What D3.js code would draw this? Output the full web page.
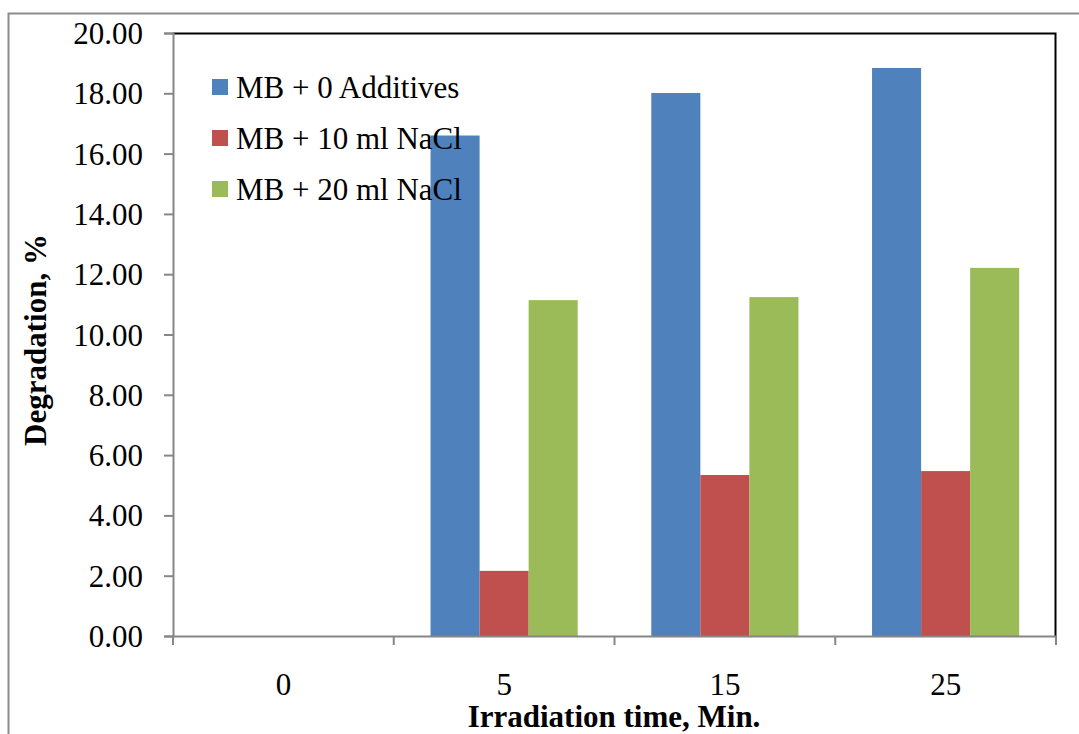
<!DOCTYPE html>
<html><head><meta charset="utf-8">
<script src="https://cdn.jsdelivr.net/npm/d3@7"></script>
<style>body{margin:0;background:#fff}svg{display:block}svg text{font-family:'Liberation Serif','Times New Roman',Tinos,'DejaVu Serif',serif !important;fill:#000}</style>
</head><body>
<script>
const categories = ["0","5","15","25"];
const seriesNames = ["MB + 0 Additives","MB + 10 ml NaCl","MB + 20 ml NaCl"];
const additives0 = [0, 16.60, 18.01, 18.84];
const nacl10 = [0, 2.16, 5.34, 5.47];
const nacl20 = [0, 11.14, 11.24, 12.21];
const yTicks = [0,2,4,6,8,10,12,14,16,18,20];
const colors = ["#4F81BD","#C0504D","#9BBB59"];
const series = [additives0, nacl10, nacl20];

const W = 1079, H = 734;
const svg = d3.select("body").append("svg").attr("width", W).attr("height", H);
const L = 173, R = 1056, T = 33, B = 636;
const FONT = "'Liberation Serif','Times New Roman',Tinos,'DejaVu Serif',serif";
const FS = "31px";

// outer frame
svg.append("path").attr("d", `M8.5,${H} V13.5 H${W}`).attr("fill","none").attr("stroke","#8c8c8c").attr("stroke-width",2);

const x = d3.scaleBand().domain(categories).range([L, R]).padding(0);
const bw = x.bandwidth();
const gapW = bw * 1.5 / 4.5;
const xs = d3.scaleBand().domain(d3.range(3)).range([gapW/2, bw - gapW/2]).padding(0);
const y = d3.scaleLinear().domain([0, 20]).range([B, T]);

// plot border top/right
svg.append("path").attr("d", `M${L},${T+0.5} H${R-0.5} V${B}`).attr("fill","none").attr("stroke","#000").attr("stroke-width",2);

// bars
series.forEach((vals, si) => {
  svg.append("g").selectAll("rect").data(vals).join("rect")
    .attr("x", (d,i) => x(categories[i]) + xs(si))
    .attr("width", xs.bandwidth())
    .attr("y", d => y(d))
    .attr("height", d => B - y(d))
    .attr("fill", colors[si]);
});

// y axis
const yAxis = svg.append("g").attr("transform", `translate(${L},0)`)
  .call(d3.axisLeft(y).tickValues(yTicks).tickFormat(d3.format(".2f")).tickSize(9).tickPadding(21));
yAxis.select(".domain").attr("stroke","#868686").attr("stroke-width",2);
yAxis.selectAll(".tick line").attr("stroke","#868686").attr("stroke-width",2);
yAxis.selectAll("text").style("font-family", FONT).style("font-size",FS).attr("fill","#000").attr("dy","0.34em");

// x axis
const xAxis = svg.append("g").attr("transform", `translate(0,${B})`)
  .call(d3.axisBottom(x).tickSize(0));
xAxis.select(".domain").attr("stroke","#868686").attr("stroke-width",2);
xAxis.selectAll("text").style("font-family", FONT).style("font-size",FS).attr("fill","#000").attr("y", 59).attr("dy", 0);
// boundary tick marks
const bounds = categories.map(c => x(c)).concat([R]);
svg.append("g").selectAll("line").data(bounds).join("line")
  .attr("x1", d => d).attr("x2", d => d).attr("y1", B).attr("y2", B + 9)
  .attr("stroke","#868686").attr("stroke-width",2);

// axis titles
svg.append("text").attr("x", 614).attr("y", 727).attr("text-anchor","middle")
  .style("font-family", FONT).style("font-size",FS).attr("font-weight","bold").text("Irradiation time, Min.");
svg.append("text").attr("transform","translate(46,340) rotate(-90)").attr("text-anchor","middle")
  .style("font-family", FONT).style("font-size",FS).attr("font-weight","bold").text("Degradation, %");

// legend
const lg = svg.append("g");
seriesNames.forEach((n, i) => {
  lg.append("rect").attr("x", 212).attr("y", 79 + i * 51).attr("width", 16).attr("height", 16).attr("fill", colors[i]);
  lg.append("text").attr("x", 236).attr("y", 98 + i * 51).style("font-family", FONT).style("font-size",FS).text(n);
});
</script>
</body></html>
